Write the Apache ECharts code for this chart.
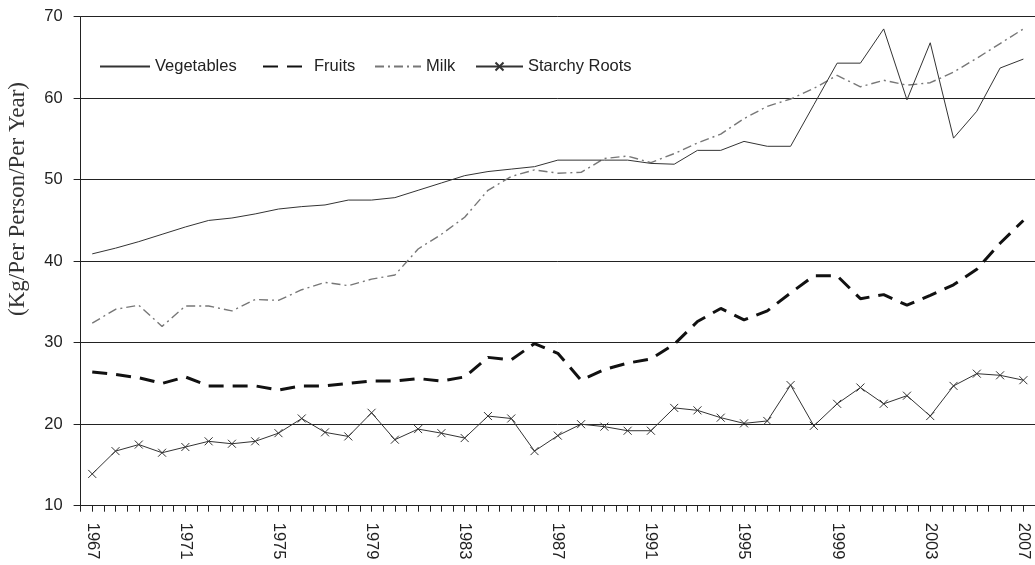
<!DOCTYPE html>
<html>
<head>
<meta charset="utf-8">
<script src="https://cdn.jsdelivr.net/npm/echarts@6/dist/echarts.min.js"></script>
<style>
html,body{margin:0;padding:0;background:#fff;}
#chart{width:1035px;height:565px;}
</style>
</head>
<body>
<div id="chart"></div>
<script>
var years = [1967,1968,1969,1970,1971,1972,1973,1974,1975,1976,1977,1978,1979,1980,1981,1982,1983,1984,1985,1986,1987,1988,1989,1990,1991,1992,1993,1994,1995,1996,1997,1998,1999,2000,2001,2002,2003,2004,2005,2006,2007];
var vegetables = [40.9,41.6,42.4,43.3,44.2,45.0,45.3,45.8,46.4,46.7,46.9,47.5,47.5,47.8,48.7,49.6,50.5,51.0,51.3,51.6,52.4,52.4,52.4,52.4,52.0,51.9,53.6,53.6,54.7,54.1,54.1,59.2,64.3,64.3,68.5,59.8,66.8,55.1,58.4,63.7,64.8];
var fruits = [26.4,26.1,25.7,25.0,25.8,24.7,24.7,24.7,24.2,24.7,24.7,25.0,25.3,25.3,25.6,25.3,25.8,28.2,27.9,29.9,28.7,25.4,26.7,27.5,28.0,29.8,32.6,34.2,32.8,33.9,36.1,38.2,38.2,35.4,35.9,34.6,35.8,37.1,39.0,42.2,45.0];
var milk = [32.4,34.1,34.6,32.0,34.5,34.5,33.9,35.3,35.2,36.5,37.4,37.0,37.8,38.3,41.5,43.3,45.4,48.7,50.4,51.2,50.8,50.9,52.6,52.9,52.1,53.2,54.5,55.6,57.5,59.0,59.9,61.2,62.8,61.4,62.2,61.6,61.9,63.2,64.9,66.7,68.5];
var starchyRoots = [13.9,16.7,17.5,16.5,17.2,17.9,17.6,17.9,18.9,20.7,19.0,18.5,21.4,18.1,19.4,18.9,18.3,21.0,20.7,16.7,18.6,20.0,19.7,19.2,19.2,22.0,21.7,20.8,20.1,20.4,24.8,19.8,22.5,24.5,22.5,23.5,21.0,24.7,26.2,26.0,25.4];
var yTicks = [10,20,30,40,50,60,70];
var yTitle = '(Kg/Per Person/Per Year)';

function pairs(vals){ return years.map(function(y,i){ return [y, vals[i]]; }); }

var FONT = "'Liberation Sans', Arial, sans-serif";
var chart = echarts.init(document.getElementById('chart'), null, {renderer:'canvas'});

function legendAt(name, left, width){
  return {
    data:[name], left:left, top:58, itemWidth:width, itemHeight:10, padding:0,
    textStyle:{fontFamily:FONT, fontSize:16.5, color:'#222'},
    selectedMode:false
  };
}
var noMark = {color:'transparent', borderColor:'transparent', borderWidth:0};

var option = {
  animation:false,
  backgroundColor:'#fff',
  grid:{left:80.6, right:-4.7, top:16.7, bottom:59.3, containLabel:false},
  legend:[
    legendAt('Vegetables', 99, 50),
    legendAt('Fruits', 262, 46),
    legendAt('Milk', 374, 46),
    legendAt('Starchy Roots', 475, 47)
  ],
  xAxis:{
    type:'value', min:1966.5, max:2007.5, interval:0.5,
    axisLine:{show:true, onZero:false, lineStyle:{color:'#222', width:1}},
    axisTick:{show:true, length:6, lineStyle:{color:'#222', width:1}},
    splitLine:{show:false},
    axisLabel:{
      rotate:-90, margin:17, fontFamily:FONT, fontSize:16.5, color:'#222',
      showMinLabel:true, showMaxLabel:true,
      formatter:function(v){
        var r = Math.round(v*2)/2;
        if (Math.abs(r - Math.round(r)) > 0.01) return '';
        r = Math.round(r);
        return ((r - 1967) % 4 === 0) ? String(r) : '';
      }
    }
  },
  yAxis:{
    type:'value', min:yTicks[0], max:yTicks[yTicks.length-1], interval:10,
    axisLine:{show:true, lineStyle:{color:'#222', width:1}},
    axisTick:{show:true, length:7, lineStyle:{color:'#222', width:1}},
    splitLine:{show:true, lineStyle:{color:'#222', width:1}},
    axisLabel:{margin:18, fontFamily:FONT, fontSize:16.5, color:'#222'}
  },
  graphic:[{
    type:'text', x:18, y:199, rotation:Math.PI/2,
    style:{text:yTitle, font:"23px 'Liberation Serif', 'Times New Roman', serif", fill:'#333', align:'center', verticalAlign:'middle'}
  }],
  series:[
    {name:'Vegetables', type:'line', data:pairs(vegetables), symbol:'none', showSymbol:false,
     lineStyle:{color:'#333', width:1}, itemStyle:noMark, z:3},
    {name:'Fruits', type:'line', data:pairs(fruits), symbol:'none', showSymbol:false,
     lineStyle:{color:'#111', width:3, type:[15,9]}, itemStyle:noMark, z:2},
    {name:'Milk', type:'line', data:pairs(milk), symbol:'none', showSymbol:false,
     lineStyle:{color:'#777', width:1.4, type:[9,4,2,4]}, itemStyle:noMark, z:2},
    {name:'Starchy Roots', type:'line', data:pairs(starchyRoots),
     symbol:'path://M0,0L10,10M10,0L0,10', symbolSize:[8,8], showSymbol:true,
     lineStyle:{color:'#333', width:1},
     itemStyle:{color:'transparent', borderColor:'#333', borderWidth:1}, z:3}
  ]
};
chart.setOption(option);
</script>
</body>
</html>
